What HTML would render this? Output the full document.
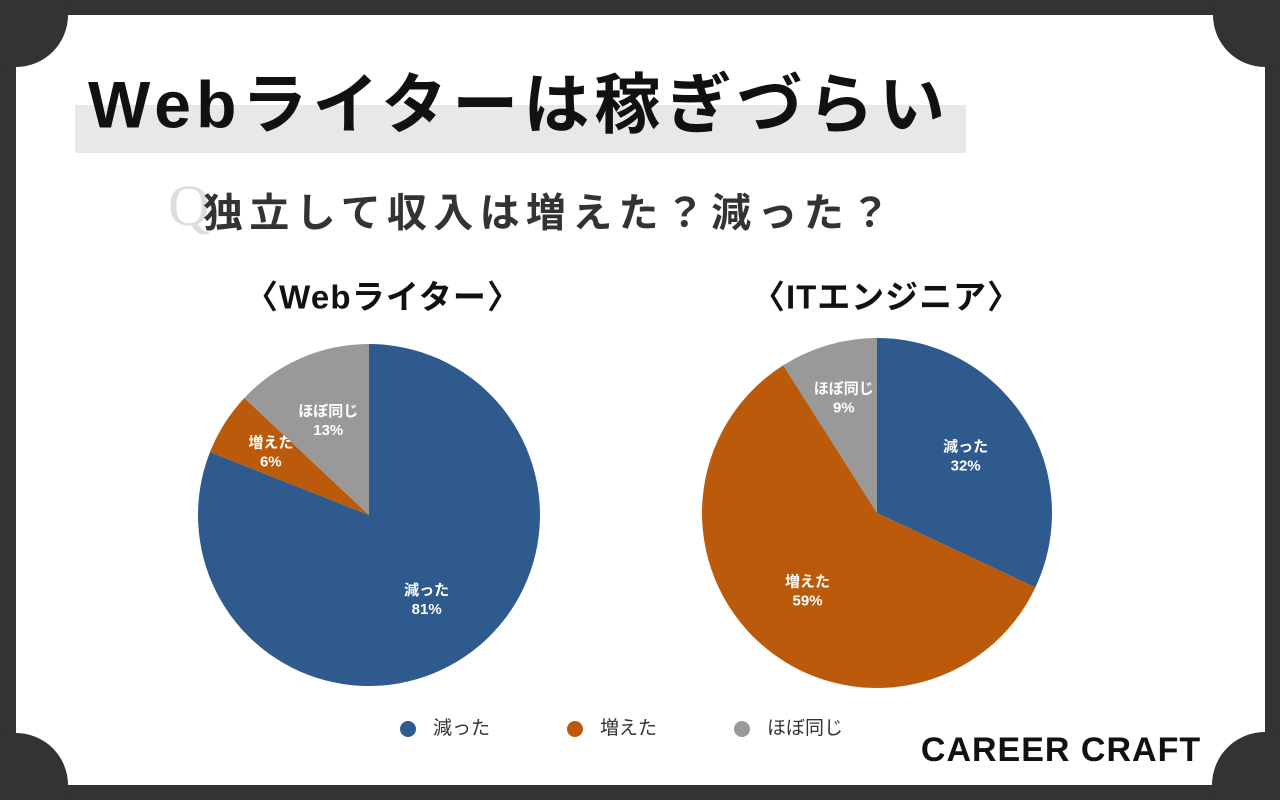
<!DOCTYPE html>
<html><head><meta charset="utf-8"><style>
html,body{margin:0;padding:0}
body{width:1280px;height:800px;background:#333;position:relative;overflow:hidden;font-family:"Liberation Sans","Noto Sans CJK JP",sans-serif}
.abs{position:absolute}
</style></head><body>
<svg class="abs" style="left:0;top:0" width="1280" height="800">
<rect x="16" y="15" width="1249" height="770" fill="#fff"/>
<circle cx="16" cy="15" r="52" fill="#333"/><circle cx="1265" cy="15" r="52" fill="#333"/>
<circle cx="16" cy="785" r="52" fill="#333"/><circle cx="1265" cy="785" r="53" fill="#333"/>
<rect x="75" y="105" width="891" height="48" fill="#e8e8e8"/>
<text x="88" y="110" font-size="66" font-weight="bold" fill="#111" dominant-baseline="middle" textLength="857" lengthAdjust="spacing" font-family="Liberation Sans,Noto Sans CJK JP,sans-serif">Webライターは稼ぎづらい</text>
<text x="168" y="225" font-size="58" fill="#ddd" font-family="Liberation Serif,serif">Q</text>
<text x="203" y="216" font-size="40" font-weight="bold" fill="#333" dominant-baseline="middle" textLength="687" lengthAdjust="spacing" font-family="Liberation Sans,Noto Sans CJK JP,sans-serif">独立して収入は増えた？減った？</text>
<text x="245" y="300" font-size="33" font-weight="bold" fill="#111" dominant-baseline="middle" textLength="275" lengthAdjust="spacing" font-family="Liberation Sans,Noto Sans CJK JP,sans-serif">〈Webライター〉</text>
<text x="752" y="300" font-size="33" font-weight="bold" fill="#111" dominant-baseline="middle" textLength="268" lengthAdjust="spacing" font-family="Liberation Sans,Noto Sans CJK JP,sans-serif">〈ITエンジニア〉</text>
<g id="pies"></g>
<g id="legend"></g>
<text x="1061" y="752" font-size="34" font-weight="bold" fill="#111" text-anchor="middle" dominant-baseline="middle" letter-spacing="1">CAREER CRAFT</text>
</svg>
<script>
const categories=["減った","増えた","ほぼ同じ"];
const webWriterValues=[81,6,13];
const engineerValues=[32,59,9];
const colors=["#2e5a8e","#bb5a0a","#999999"];
const NS="http://www.w3.org/2000/svg";
const pies=document.getElementById('pies');
function drawPie(vals,cx,cy,r,prefix){
  const tot=vals.reduce((a,b)=>a+b,0);let a0=0;
  vals.forEach((v,i)=>{
    const a1=a0+v/tot*2*Math.PI;
    const p=(a)=>[cx+r*Math.sin(a),cy-r*Math.cos(a)];
    const [x0,y0]=p(a0),[x1,y1]=p(a1);
    const path=document.createElementNS(NS,'path');
    path.setAttribute('d',`M${cx},${cy}L${x0},${y0}A${r},${r} 0 ${a1-a0>Math.PI?1:0} 1 ${x1},${y1}Z`);
    path.setAttribute('fill',colors[i]);
    
    
    pies.appendChild(path);
    const lr=v<10?0.68:0.6;
    const m=(a0+a1)/2,lx=cx+r*lr*Math.sin(m),ly=cy-r*lr*Math.cos(m);
    [categories[i],v+'%'].forEach((s,k)=>{
      const t=document.createElementNS(NS,'text');
      t.setAttribute('x',lx);t.setAttribute('y',ly-9+k*19);
      t.setAttribute('text-anchor','middle');t.setAttribute('dominant-baseline','middle');
      t.setAttribute('fill','#fff');t.setAttribute('font-size','15');t.setAttribute('font-weight','bold');
      t.textContent=s;
      
      
      pies.appendChild(t);
    });
    a0=a1;
  });
}
drawPie(webWriterValues,369,515,171,'web-writer');
drawPie(engineerValues,877,513,175,'engineer');
const lg=document.getElementById('legend');
const lx=[408,575,742];
categories.forEach((c,i)=>{
  const d=document.createElementNS(NS,'circle');
  d.setAttribute('cx',lx[i]);d.setAttribute('cy',729);d.setAttribute('r',8);d.setAttribute('fill',colors[i]);
  
  
  lg.appendChild(d);
  const t=document.createElementNS(NS,'text');
  t.setAttribute('x',lx[i]+25);t.setAttribute('y',729);t.setAttribute('dominant-baseline','middle');
  t.setAttribute('font-size','19');t.setAttribute('fill','#333');t.textContent=c;
  
  
  lg.appendChild(t);
});
</script>
</body></html>
